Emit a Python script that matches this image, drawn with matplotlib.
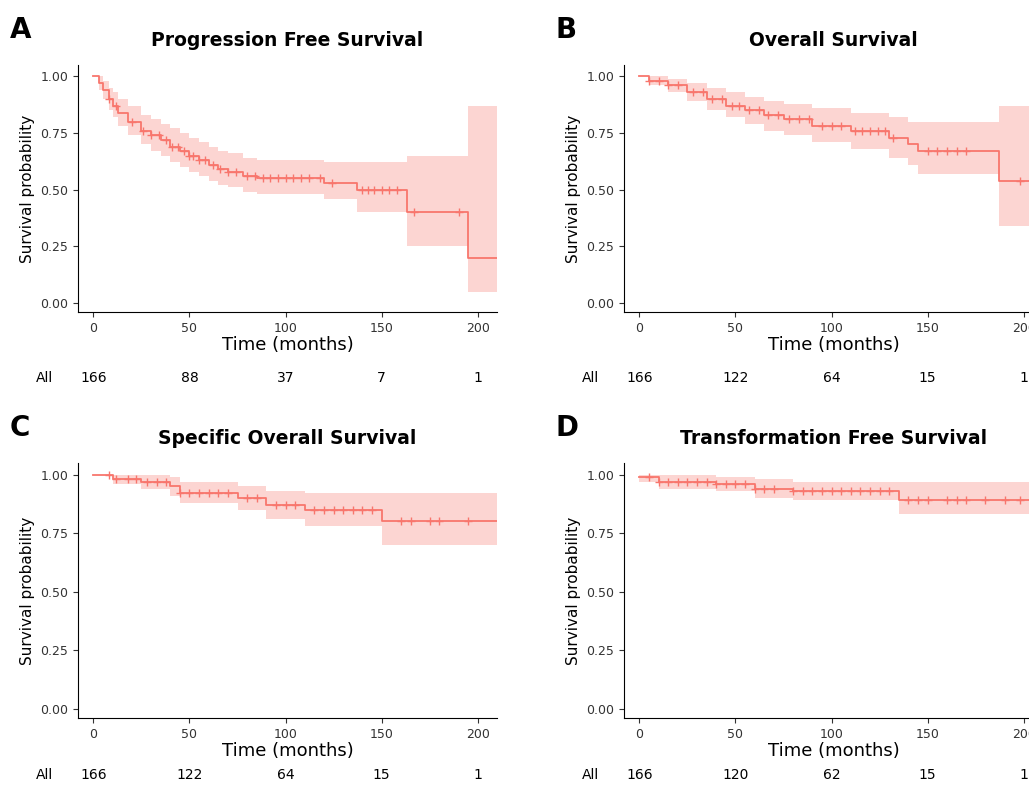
import numpy as np
import matplotlib.pyplot as plt

col = '#F8766D'

# step times, survival, CI lower, CI upper
pfs_t = [0, 3, 5, 8, 10, 13, 18, 25, 30, 35, 40, 45, 50, 55, 60, 65, 70, 78, 85, 120, 137, 163, 195]
pfs_s = [1, .97, .94, .90, .87, .84, .80, .76, .74, .72, .69, .67, .65, .63, .61, .59, .58, .56, .55, .53, .50, .40, .20]
pfs_lo = [1, .94, .90, .85, .82, .78, .74, .70, .67, .65, .62, .60, .58, .56, .54, .52, .51, .49, .48, .46, .40, .25, .05]
pfs_hi = [1, 1, .98, .95, .93, .90, .87, .83, .81, .79, .77, .75, .73, .71, .69, .67, .66, .64, .63, .62, .62, .65, .87]
pfs_c = [8, 12, 20, 26, 30, 34, 38, 41, 44, 47, 50, 52, 55, 58, 62, 66, 70, 74, 80, 84, 88, 92, 96, 100, 104, 108, 112, 118, 124, 140, 143, 146, 150, 154, 158, 167, 190]

os_t = [0, 5, 15, 25, 35, 45, 55, 65, 75, 90, 110, 130, 140, 145, 187]
os_s = [1, .98, .96, .93, .90, .87, .85, .83, .81, .78, .76, .73, .70, .67, .54]
os_lo = [1, .96, .93, .89, .85, .82, .79, .76, .74, .71, .68, .64, .61, .57, .34]
os_hi = [1, 1, .99, .97, .95, .93, .91, .89, .88, .86, .84, .82, .80, .80, .87]
os_c = [5, 10, 15, 20, 28, 33, 38, 43, 48, 52, 57, 62, 67, 72, 78, 83, 88, 95, 100, 105, 112, 116, 120, 124, 128, 132, 150, 155, 160, 165, 170, 198]

sos_t = [0, 10, 25, 40, 45, 75, 90, 110, 150]
sos_s = [1, .98, .97, .95, .92, .90, .87, .85, .80]
sos_lo = [1, .96, .94, .91, .88, .85, .81, .78, .70]
sos_hi = [1, 1, 1, .99, .97, .95, .93, .92, .92]
sos_c = [8, 12, 18, 22, 28, 33, 38, 45, 50, 55, 60, 65, 70, 80, 85, 95, 100, 105, 115, 120, 125, 130, 135, 140, 145, 160, 165, 175, 180, 195]

tfs_t = [0, 10, 40, 60, 80, 135]
tfs_s = [.99, .97, .96, .94, .93, .89]
tfs_lo = [.97, .94, .93, .90, .89, .83]
tfs_hi = [1, 1, .99, .98, .97, .97]
tfs_c = [5, 10, 15, 20, 25, 30, 35, 40, 45, 50, 55, 60, 65, 70, 80, 85, 90, 95, 100, 105, 110, 115, 120, 125, 130, 140, 145, 150, 160, 165, 170, 180, 190, 198]

risk_times = [0, 50, 100, 150, 200]
risk_a = [166, 88, 37, 7, 1]
risk_b = [166, 122, 64, 15, 1]
risk_c = [166, 122, 64, 15, 1]
risk_d = [166, 120, 62, 15, 1]

panels = [
    ('A', 'Progression Free Survival', pfs_t, pfs_s, pfs_lo, pfs_hi, pfs_c, risk_a, [78, 65, 497, 312], 378),
    ('B', 'Overall Survival', os_t, os_s, os_lo, os_hi, os_c, risk_b, [624, 65, 1043, 312], 378),
    ('C', 'Specific Overall Survival', sos_t, sos_s, sos_lo, sos_hi, sos_c, risk_c, [78, 463, 497, 718], 775),
    ('D', 'Transformation Free Survival', tfs_t, tfs_s, tfs_lo, tfs_hi, tfs_c, risk_d, [624, 463, 1043, 718], 775),
]

W, H = 1029, 785
fig = plt.figure(figsize=(W / 100, H / 100), dpi=100)

for letter, title, t, s, lo, hi, cens, risk, box, risk_y in panels:
    x0, y0, x1, y1 = box
    ax = fig.add_axes([x0 / W, 1 - y1 / H, (x1 - x0) / W, (y1 - y0) / H])
    tt = t + [210]
    ss = s + [s[-1]]
    ax.fill_between(tt, lo + [lo[-1]], hi + [hi[-1]], step='post', color=col, alpha=0.3, lw=0)
    ax.step(tt, ss, where='post', color=col, lw=1.3)
    cy = [s[np.searchsorted(t, c, side='right') - 1] for c in cens]
    ax.plot(cens, cy, '+', color=col, ms=6, mew=1)
    ax.set_xlim(-8, 210)
    ax.set_ylim(-0.04, 1.05)
    ax.set_xticks(risk_times)
    ax.set_yticks([0, .25, .5, .75, 1])
    ax.set_yticklabels(['0.00', '0.25', '0.50', '0.75', '1.00'])
    ax.tick_params(labelsize=9, colors='#333333')
    for sp in ['top', 'right']:
        ax.spines[sp].set_visible(False)
    ax.set_xlabel('Time (months)', fontsize=13, labelpad=1)
    ax.set_ylabel('Survival probability', fontsize=11)
    ax.set_title(title, fontsize=13.5, fontweight='bold', pad=14)
    fig.text((x0 - 68) / W, 1 - (y0 - 35) / H, letter, fontsize=20, fontweight='bold', va='center')
    ry = -(risk_y - y1) / (y1 - y0)
    ax.text(-0.08, ry, 'All', transform=ax.transAxes, fontsize=10, ha='center', va='center')
    for rt, rv in zip(risk_times, risk):
        ax.text(rt, ry, str(rv), transform=ax.get_xaxis_transform(), fontsize=10, ha='center', va='center')

fig.savefig('out.png', dpi=100)
